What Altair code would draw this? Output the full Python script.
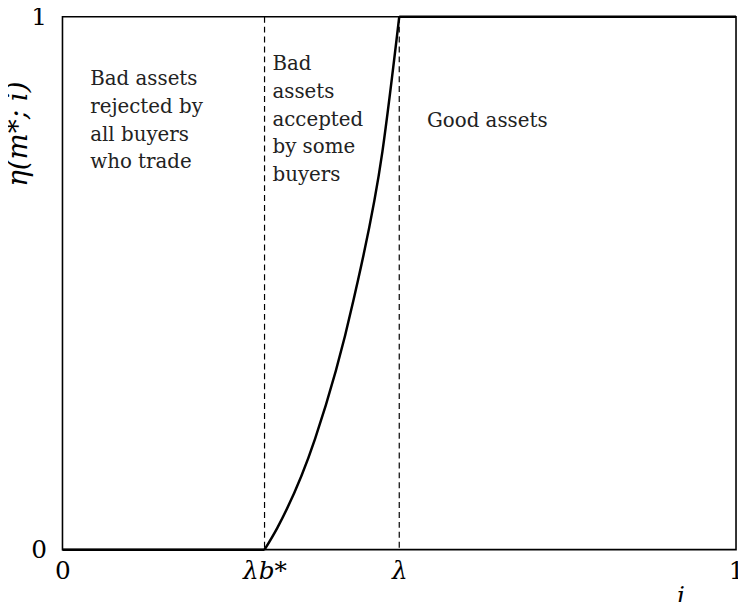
import altair as alt
import pandas as pd

# Curve pieces (i, eta)
flat_low_i = [0.0, 0.3]
flat_low_eta = [0.0, 0.0]
curve_i = [0.3, 0.319, 0.375, 0.432, 0.475, 0.5]
curve_eta = [0.0, 0.041, 0.208, 0.468, 0.747, 1.0]
flat_high_i = [0.5, 1.0]
flat_high_eta = [1.0, 1.0]

thresholds = [0.3, 0.5]
x_tick_values = [0, 0.3, 0.5, 1]
x_tick_labels = ["0", "λb*", "λ", "1"]
y_tick_values = [0, 1]

block_left = "Bad assets\nrejected by\nall buyers\nwho trade"
block_mid = "Bad\nassets\naccepted\nby some\nbuyers"
block_right = "Good assets"

FONT = "DejaVu Serif, Liberation Serif, serif"

rows = []
for seg, xs, ys in [("low", flat_low_i, flat_low_eta),
                    ("curve", curve_i, curve_eta),
                    ("high", flat_high_i, flat_high_eta)]:
    for k, (a, b) in enumerate(zip(xs, ys)):
        rows.append({"seg": seg, "i": a, "eta": b, "ord": k})
df = pd.DataFrame(rows)

label_expr = "{" + ",".join(f"'{v}':'{l}'" for v, l in zip(x_tick_values, x_tick_labels)) + "}[datum.value]"

xscale = alt.Scale(domain=[0, 1], nice=False, zero=False)
yscale = alt.Scale(domain=[0, 1], nice=False, zero=False)

xaxis = alt.Axis(
    values=x_tick_values,
    labelExpr=label_expr,
    labelFont=FONT, labelFontSize=25, labelColor="black",
    labelFontStyle={"condition": {"test": "datum.value > 0.2 && datum.value < 0.9", "value": "italic"}, "value": "normal"},
    labelPadding=9, labelBaseline="top", labelFlush=False, labelOverlap=False,
    title="i", titleFont=FONT, titleFontSize=25, titleFontStyle="italic",
    titleFontWeight="normal", titleColor="black",
    titleX=624, titleY=34, titleAnchor="start", titleAlign="center",
    domain=False, ticks=False, grid=False,
)
yaxis = alt.Axis(
    values=y_tick_values, format="d",
    labelFont=FONT, labelFontSize=25, labelColor="black",
    labelPadding=16, labelFlush=False, labelOverlap=False,
    title="η(m*; i)", titleFont=FONT, titleFontSize=28, titleFontStyle="italic",
    titleFontWeight="normal", titleColor="black",
    titleX=-44, titleY=118, titleAngle=270, titleAlign="center", titleBaseline="middle",
    domain=False, ticks=False, grid=False,
)

curve = alt.Chart(df[df.seg == "curve"]).mark_line(
    color="black", strokeWidth=2.5, interpolate="monotone"
).encode(
    x=alt.X("i:Q", scale=xscale),
    y=alt.Y("eta:Q", scale=yscale),
    order="ord:Q",
)
flats = alt.Chart(df[df.seg != "curve"]).mark_line(color="black", strokeWidth=2.5).encode(
    x=alt.X("i:Q", scale=xscale, axis=xaxis),
    y=alt.Y("eta:Q", scale=yscale, axis=yaxis),
    detail="seg:N",
    order="ord:Q",
)

rules = alt.Chart(pd.DataFrame({"t": thresholds})).mark_rule(
    color="black", strokeWidth=1.2, strokeDash=[6, 4]
).encode(
    x=alt.X("t:Q", scale=xscale),
    y=alt.value(0),
    y2=alt.value(538),
)

def text_block(txt, px, py):
    return alt.Chart(pd.DataFrame({"t": [txt]})).mark_text(
        font=FONT, fontSize=20, color="#222", align="left", baseline="top",
        lineBreak="\n", lineHeight=28,
    ).encode(text="t:N", x=alt.value(px), y=alt.value(py))

texts = (text_block(block_left, 28, 53)
         + text_block(block_mid, 212, 38)
         + text_block(block_right, 368, 95))

chart = alt.layer(rules, flats, curve, texts).properties(
    width=680, height=538,
    padding={"left": 55, "top": 6, "right": 2, "bottom": 50},
    autosize=alt.AutoSizeParams(type="none"),
).configure_view(stroke="black", strokeWidth=1.6)

chart.save("out.html", embed_options={"renderer": "svg", "actions": False})
